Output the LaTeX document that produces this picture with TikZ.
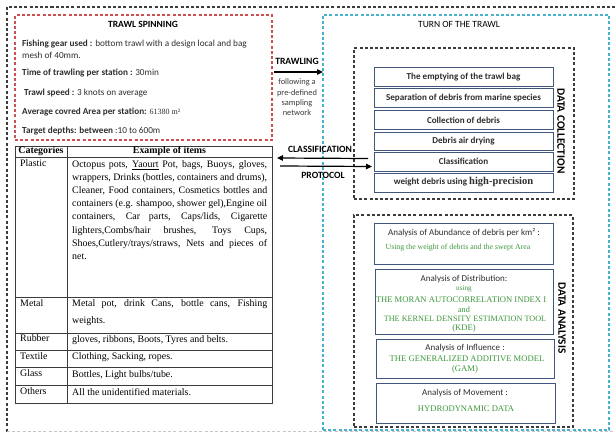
\documentclass[tikz,border=0pt]{standalone}
\usepackage{fontspec}
\setmainfont{Carlito}
\newfontfamily\tnr{Liberation Serif}
\usetikzlibrary{arrows.meta,calc}
\definecolor{redd}{RGB}{205,80,80}
\definecolor{teal2}{RGB}{70,178,205}
\definecolor{dgrey}{RGB}{60,60,60}
\definecolor{boxb}{RGB}{65,85,125}
\definecolor{gtxt}{RGB}{60,150,60}
\definecolor{btxt}{RGB}{45,45,45}
\tikzset{
  frame/.style={draw, line width=1.1pt, dash pattern=on 3pt off 2.2pt, inner sep=0pt, outer sep=0pt, anchor=north west},
  stepbox/.style={draw=boxb, line width=1pt, inner sep=0pt, outer sep=0pt, anchor=north west, minimum width=179pt, font=\fontsize{9.1}{10}\selectfont\bfseries, text=btxt},
  anbox/.style={draw=boxb, line width=1pt, inner sep=0pt, outer sep=0pt, anchor=north west},
  atitle/.style={font=\fontsize{9}{10}\selectfont, text=btxt, inner sep=0pt},
  gline/.style={font=\tnr\fontsize{8.6}{9}\selectfont, text=gtxt, inner sep=0pt},
  rtxt/.style={font=\fontsize{9.2}{12}\selectfont, text=btxt, anchor=west, inner sep=0pt},
  ttxt/.style={font=\tnr\fontsize{9.9}{13}\selectfont, inner sep=0pt, anchor=north west},
  vlab/.style={font=\fontsize{11.3}{12}\selectfont\bfseries, rotate=-90, inner sep=0pt},
  arr/.style={line width=1.2pt, -{Triangle[length=6pt,width=5.5pt]}},
  tline/.style={line width=0.6pt, draw=dgrey},
  mlab/.style={font=\fontsize{9.6}{10}\selectfont\bfseries, inner sep=0pt}
}
\begin{document}
\begin{tikzpicture}[x=1pt,y=-1pt]
\useasboundingbox (0,0) rectangle (615,433);
% outer frame
\draw[line width=1.1pt, dash pattern=on 3pt off 2.2pt, dgrey] (7,431.5) -- (7,7) -- (625,7);
\draw[line width=1.1pt, dash pattern=on 3pt off 2.2pt, gray!45] (7,431.5) -- (625,431.5);

% red frame
\node[frame, draw=redd, minimum width=257pt, minimum height=125pt] (red) at (15,15) {};
\node[font=\fontsize{9.5}{10}\selectfont\bfseries, inner sep=0pt] (rtitle) at (143,24) {TRAWL SPINNING};
\node[rtxt, align=left] (r1) at (22,49) {\textbf{Fishing gear used :} bottom trawl with a design local and bag\\mesh of 40mm.};
\node[rtxt] (r2) at (22,73) {\textbf{Time of trawling per station :} 30min};
\node[rtxt] (r3) at (24,93) {\textbf{Trawl speed :} 3 knots on average};
\node[rtxt] (r4) at (22,112) {\textbf{Average covred Area per station:} {\tnr\fontsize{8}{9}\selectfont 61380 m²}};
\node[rtxt] (r5) at (22,131) {\textbf{Target depths: between} :10 to 600m};

% teal frame
\node[frame, draw=teal2, minimum width=286pt, minimum height=415pt] (teal) at (323,15) {};
\node[font=\fontsize{9.5}{10}\selectfont, inner sep=0pt] (ttitle) at (459,24) {TURN OF THE TRAWL};

% data collection frame
\node[frame, draw=dgrey, minimum width=220pt, minimum height=151pt] (dc) at (354,48) {};
\node[stepbox, minimum height=19pt] (c1) at (374,68) {The emptying of the trawl bag};
\node[stepbox, minimum height=19pt] (c2) at (374,89) {Separation of debris from marine species};
\node[stepbox, minimum height=18pt] (c3) at (374,111) {Collection of debris};
\node[stepbox, minimum height=18pt] (c4) at (374,132) {Debris air drying};
\node[stepbox, minimum height=19pt] (c5) at (374,152) {Classification};
\node[stepbox, minimum height=19pt] (c6) at (374,173) {weight debris using {\tnr\fontsize{10.5}{11}\selectfont high-precision}};
\node[vlab] (dclab) at (561,131) {DATA COLLECTION};

% data analysis frame
\node[frame, draw=dgrey, minimum width=219pt, minimum height=212pt] (da) at (354,215) {};
\node[anbox, minimum width=179pt, minimum height=41pt] (a1) at (374,223) {};
\node[atitle] (a1t) at (464,233) {Analysis of Abundance of debris per km² :};
\node[gline, font=\tnr\fontsize{7.8}{9}\selectfont] (a1g) at (458,248) {Using the weight of debris and the swept Area};
\node[anbox, minimum width=178pt, minimum height=65pt] (a2) at (375,269) {};
\node[atitle] (a2t) at (464,279) {Analysis of Distribution:};
\node[gline, font=\tnr\fontsize{7.2}{8}\selectfont] (a2g1) at (464,288.5) {using};
\node[gline] (a2g2) at (461,300) {THE MORAN AUTOCORRELATION INDEX I};
\node[gline, font=\tnr\fontsize{8.2}{9}\selectfont] (a2g3) at (464,310) {and};
\node[gline, font=\tnr\fontsize{8.2}{9}\selectfont] (a2g4) at (465,319) {THE KERNEL DENSITY ESTIMATION TOOL};
\node[gline] (a2g5) at (464,328) {(KDE)};
\node[anbox, minimum width=178pt, minimum height=39pt] (a3) at (376,339) {};
\node[atitle] (a3t) at (465,348) {Analysis of Influence :};
\node[gline] (a3g1) at (467,359) {THE GENERALIZED ADDITIVE MODEL};
\node[gline] (a3g2) at (465,369) {(GAM)};
\node[anbox, minimum width=179pt, minimum height=40pt] (a4) at (376,383) {};
\node[atitle] (a4t) at (465,393) {Analysis of Movement :};
\node[gline] (a4g) at (466,409) {HYDRODYNAMIC DATA};
\node[vlab] (dalab) at (562,318) {DATA ANALYSIS};

% trawling arrow
\coordinate (trA) at ($(red.north east)+(2,57)$);
\coordinate (trB) at ($(teal.north west)+(0,57)$);
\draw[arr] (trA) -- (trB);
\node[mlab] (trl) at (297,61) {TRAWLING};
\node[font=\fontsize{8.4}{10.3}\selectfont, text=dgrey, align=center, inner sep=0pt] (trn) at (297,97.5) {following a\\pre-defined\\sampling\\network};

% table
\node[draw=dgrey, line width=0.6pt, minimum width=257pt, minimum height=257pt, inner sep=0pt, outer sep=0pt, anchor=north west] (tab) at (15,146) {};
\draw[tline] (67,146) -- (67,403);
\foreach \yy in {157,297,333,350,367,385} \draw[tline] (15,\yy) -- (272,\yy);
\node[font=\tnr\fontsize{9.9}{10}\selectfont\bfseries, inner sep=0pt] (h1) at (41,151.5) {Categories};
\node[font=\tnr\fontsize{9.9}{10}\selectfont\bfseries, inner sep=0pt] (h2) at (169.5,151.5) {Example of items};
\node[ttxt] (k1) at (20,159) {Plastic};
\node[ttxt] (k2) at (20,299) {Metal};
\node[ttxt] (k3) at (20,334.5) {Rubber};
\node[ttxt] (k4) at (20,352) {Textile};
\node[ttxt] (k5) at (20,369) {Glass};
\node[ttxt] (k6) at (20,387) {Others};
\node[ttxt, align=left, font=\tnr\fontsize{9.9}{13.1}\selectfont] (v1) at (72,160.5) {%
\makebox[195pt][s]{Octopus pots, \underline{Yaourt} Pot, bags, Buoys, gloves,}\\
\makebox[195pt][s]{wrappers, Drinks (bottles, containers and drums),}\\
\makebox[195pt][s]{Cleaner, Food containers, Cosmetics bottles and}\\
\makebox[195pt][s]{containers (e.g. shampoo, shower gel),Engine oil}\\
\makebox[195pt][s]{containers, Car parts, Caps/lids, Cigarette}\\
\makebox[195pt][s]{lighters,Combs/hair brushes, Toys Cups,}\\
\makebox[195pt][s]{Shoes,Cutlery/trays/straws, Nets and pieces of}\\
net.};
\node[ttxt, align=left, font=\tnr\fontsize{9.9}{17}\selectfont] (v2) at (72,299) {%
\makebox[195pt][s]{Metal pot, drink Cans, bottle cans, Fishing}\\
weights.};
\node[ttxt] (v3) at (72,335) {gloves, ribbons, Boots, Tyres and belts.};
\node[ttxt] (v4) at (72,352.5) {Clothing, Sacking, ropes.};
\node[ttxt] (v5) at (72,370) {Bottles, Light bulbs/tube.};
\node[ttxt] (v6) at (72,388) {All the unidentified materials.};

% classification arrows
\draw[arr] ($(c5.west)+(-6,-3)$) -- ($(tab.north east)+(5,12)$);
\draw[arr] ($(tab.north east)+(8,20)$) -- ($(c5.west)+(-2,5)$);
\node[mlab] (cl) at (320,149) {CLASSIFICATION};
\node[mlab] (pr) at (323,175) {PROTOCOL};
\end{tikzpicture}
\end{document}
